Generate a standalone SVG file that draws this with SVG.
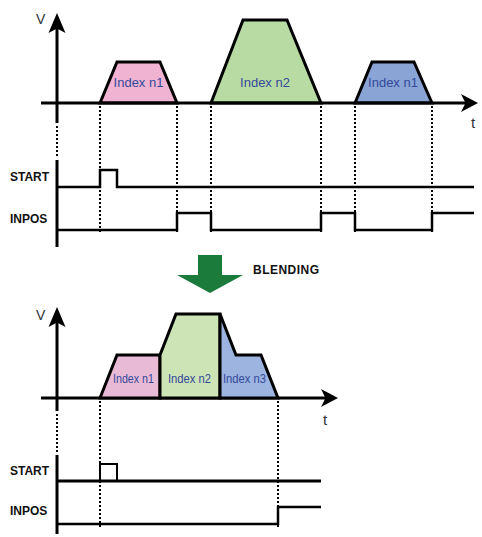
<svg xmlns="http://www.w3.org/2000/svg" width="482" height="537" viewBox="0 0 482 537">
<style>
.ax{stroke:#000;stroke-width:3;fill:none}
.ah{fill:#000;stroke:none}
.tr{stroke:#000;stroke-width:3;stroke-linejoin:miter}
.sig{stroke:#000;stroke-width:2.5;fill:none;stroke-linejoin:miter}
.dot{stroke:#000;stroke-width:2;stroke-dasharray:2 2;fill:none}
.lbl{font-family:"Liberation Sans",Arial,sans-serif;font-size:13px;fill:#34499a}
.sl{font-family:"Liberation Sans",Arial,sans-serif;font-size:12px;font-weight:bold;fill:#111}
.axl{font-family:"Liberation Sans",Arial,sans-serif;font-size:14px;fill:#333}
</style>
<rect width="482" height="537" fill="#fff"/>

<!-- TOP PANEL -->
<g id="top-n1">
<polygon class="tr" fill="#f0b4d2" points="100,103 117,62 160,62 177,103"/>
<text class="lbl" x="138.5" y="87" text-anchor="middle">Index n1</text>
</g>
<g id="top-n2">
<polygon class="tr" fill="#b8dba3" points="211,103 243,20 287,20 321,103"/>
<text class="lbl" x="265" y="87" text-anchor="middle">Index n2</text>
</g>
<g id="top-n1b">
<polygon class="tr" fill="#8aa4d6" points="355,103 372,62 414,62 432,103"/>
<text class="lbl" x="393" y="87" text-anchor="middle">Index n1</text>
</g>

<g id="connectors">
<!-- top axes -->
<line class="ax" x1="57" y1="26" x2="57" y2="123"/>
<path class="ah" d="M57,13 L65.5,33 L57,28.5 L48.5,33 Z"/>
<line class="ax" x1="41" y1="103" x2="468" y2="103"/>
<path class="ah" d="M478,103 L461,94 L465.5,103 L461,112 Z"/>
<line class="dot" x1="57" y1="126" x2="57" y2="158"/>
<line class="ax" x1="57" y1="160" x2="57" y2="247"/>
<!-- top dotted guides -->
<line class="dot" x1="100" y1="106" x2="100" y2="232"/>
<line class="dot" x1="177" y1="106" x2="177" y2="232"/>
<line class="dot" x1="211" y1="106" x2="211" y2="232"/>
<line class="dot" x1="321" y1="106" x2="321" y2="232"/>
<line class="dot" x1="355" y1="106" x2="355" y2="232"/>
<line class="dot" x1="432" y1="106" x2="432" y2="232"/>
<!-- top signals -->
<polyline class="sig" points="57,187 100,187 100,170 117,170 117,187 474,187"/>
<polyline class="sig" points="57,230 177,230 177,213 211,213 211,230 321,230 321,213 355,213 355,230 432,230 432,213 474,213"/>

<!-- bottom axes -->
<line class="ax" x1="57" y1="320" x2="57" y2="411"/>
<path class="ah" d="M57,307 L65.5,327 L57,322.5 L48.5,327 Z"/>
<line class="ax" x1="41" y1="398" x2="328" y2="398"/>
<path class="ah" d="M338,398 L321,389 L325.5,398 L321,407 Z"/>
<line class="dot" x1="57" y1="414" x2="57" y2="453"/>
<line class="ax" x1="57" y1="455" x2="57" y2="534"/>
<line class="dot" x1="100" y1="401" x2="100" y2="527"/>
<line class="dot" x1="278" y1="401" x2="278" y2="527"/>
<!-- bottom signals -->
<line class="sig" style="stroke-width:3" x1="57" y1="481" x2="321" y2="481"/>
<polyline class="sig" style="stroke-width:2" points="100,481 100,464 117,464 117,481"/>
<polyline class="sig" points="57,524 278,524 278,507 321,507"/>
</g>

<g id="axis-labels">
<text class="axl" x="36" y="24">V</text>
<text class="axl" x="471" y="128" style="font-size:15px">t</text>
<text class="axl" x="36" y="320">V</text>
<text class="axl" x="323" y="425" style="font-size:15px">t</text>
<text class="sl" x="10" y="181">START</text>
<text class="sl" x="10" y="223">INPOS</text>
<text class="sl" x="10" y="475">START</text>
<text class="sl" x="10" y="515">INPOS</text>
</g>

<g id="blending">
<polygon fill="#1a7b3b" points="198,255 222,255 222,275 243,275 210,293 177,275 198,275"/>
<text class="sl" x="253" y="274" textLength="66">BLENDING</text>
</g>

<!-- BOTTOM PANEL -->
<g id="bot-n1">
<polygon class="tr" fill="#e8bad6" points="100,398 117,355 160,355 160,398"/>
<text class="lbl" x="113" y="383" textLength="41" lengthAdjust="spacingAndGlyphs">Index n1</text>
</g>
<g id="bot-n2">
<polygon class="tr" fill="#cde4b7" points="160,398 160,355 176,314 220,314 220,398"/>
<text class="lbl" x="168" y="383" textLength="43" lengthAdjust="spacingAndGlyphs">Index n2</text>
</g>
<g id="bot-n3">
<polygon class="tr" fill="#9cb4df" points="220,398 220,314 236,355 261,355 278,398"/>
<text class="lbl" x="223" y="383" textLength="43" lengthAdjust="spacingAndGlyphs">Index n3</text>
</g>
</svg>
